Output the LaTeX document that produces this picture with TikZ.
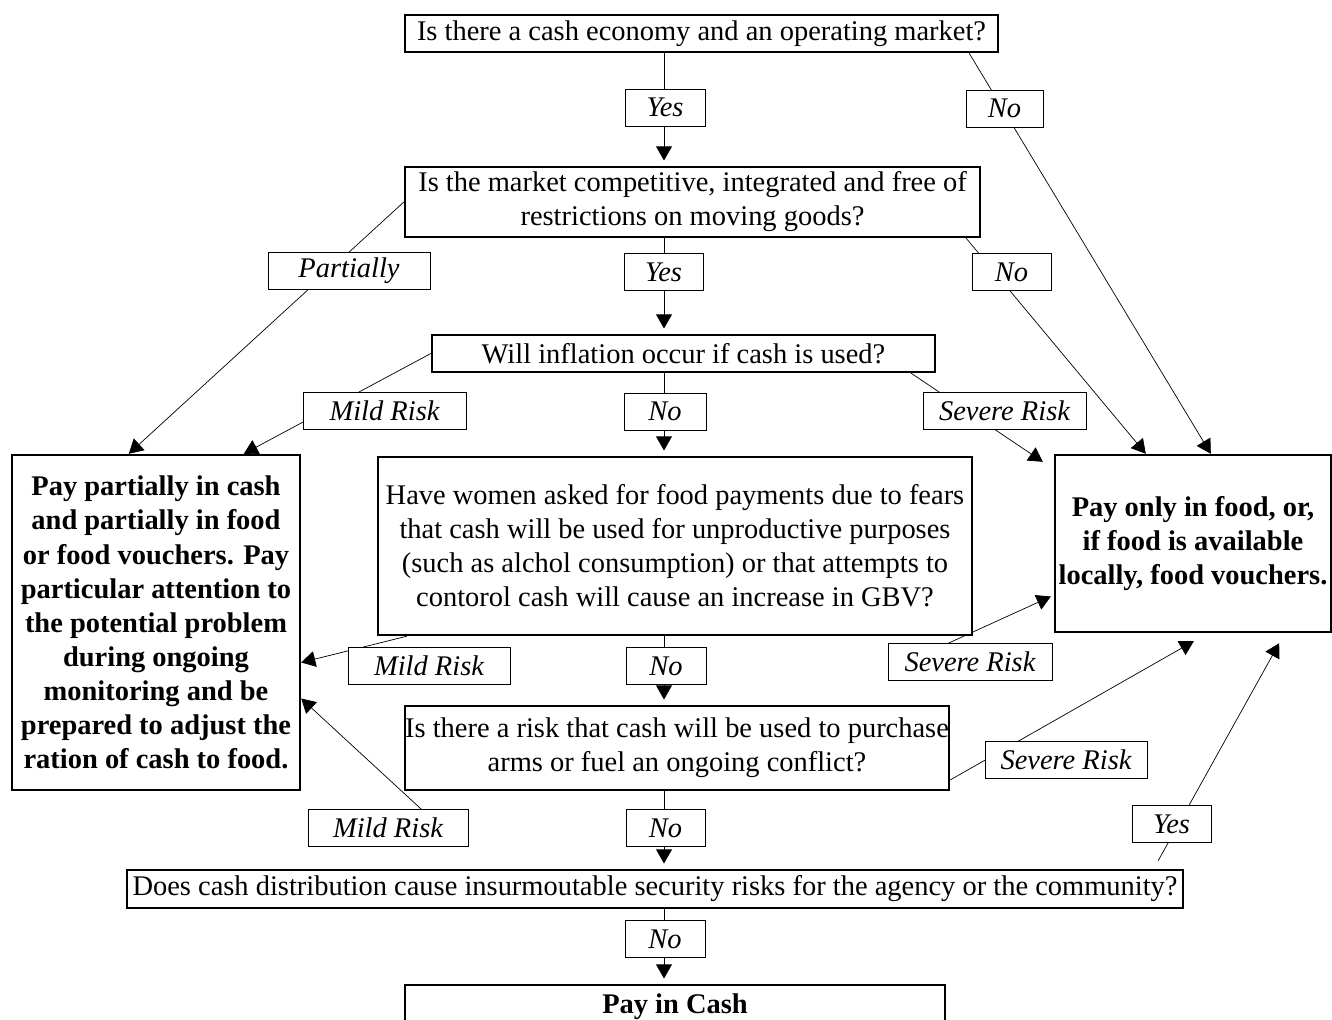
\documentclass[tikz,border=0pt]{standalone}
\usepackage{fontspec}
\setmainfont{Liberation Serif}
\usetikzlibrary{arrows.meta,calc}
\pgfdeclarelayer{back}
\pgfsetlayers{back,main}
\newcommand{\flowfont}{\fontsize{16.2}{19.4}\selectfont}

\begin{document}
\begin{tikzpicture}[x=0.02cm, y=-0.02cm, line width=1.4pt,
    every node/.style={font=\flowfont},
    qbox/.style={draw, fill=white, inner sep=0pt, align=center},
    endbox/.style={qbox, font=\flowfont\bfseries},
    lbl/.style={draw, fill=white, inner sep=0pt, minimum height=0.74cm, font=\flowfont\itshape},
    arr/.style={-{Triangle[length=8pt,width=9pt]}},
    down/.style={arr, shorten >=3pt}]
    \useasboundingbox (0,0) rectangle (1332,1020);
    \coordinate (col) at (664,0);

    % questions
    \node[qbox, minimum width=11.86cm, minimum height=0.74cm] (q1) at (701.5,33.5)
        {Is there a cash economy and an operating market?};
    \node[qbox, minimum width=11.5cm, minimum height=1.4cm] (q2) at (692.5,202)
        {Is the market competitive, integrated and free of\\ restrictions on moving goods?};
    \node[qbox, minimum width=10.06cm, minimum height=0.74cm] (q3) at (683.5,353.5)
        {Will inflation occur if cash is used?};
    \node[qbox, minimum width=11.88cm, minimum height=3.56cm] (q4) at (675,546)
        {Have women asked for food payments due to fears\\ that cash will be used for unproductive purposes\\
         (such as alchol consumption) or that attempts to\\ contorol cash will cause an increase in GBV?};
    \node[qbox, minimum width=10.76cm, minimum height=1.68cm] (q5) at (677,748)
        {Is there a risk that cash will be used to purchase\\ arms or fuel an ongoing conflict?};
    \node[qbox, minimum width=21.12cm, minimum height=0.76cm] (q6) at (655,889)
        {Does cash distribution cause insurmoutable security risks for the agency or the community?};

    % outcomes
    \node[endbox, minimum width=5.76cm, minimum height=6.7cm] (partial) at (156,622.5)
        {Pay partially in cash\\ and partially in food\\ or food vouchers. Pay\\ particular attention to\\
         the potential problem\\ during ongoing\\ monitoring and be\\ prepared to adjust the\\ ration of cash to food.};
    \node[endbox, minimum width=5.52cm, minimum height=3.54cm] (food) at (1193,543.5)
        {Pay only in food, or,\\ if food is available\\ locally, food vouchers.};
    \node[endbox, minimum width=10.8cm, minimum height=0.88cm] (cash) at (675,1007) {Pay in Cash};

    \begin{pgfonlayer}{back}
    \draw[down] (col |- q1.south) -- (col |- q2.north);
    \draw[down] (col |- q2.south) -- (col |- q3.north);
    \draw[down] (col |- q3.south) -- (col |- q4.north);
    \draw[down] (col |- q4.south) -- (col |- q5.north);
    \draw[down] (col |- q5.south) -- (col |- q6.north);
    \draw[down] (col |- q6.south) -- (col |- cash.north);

    \draw[arr] ($(q1.south east)+(-30,0)$) -- ($(food.north west)+(157,0)$);
    \draw[arr] (q2.west) -- ($(partial.north west)+(118,0)$);
    \draw[arr] ($(q2.south east)+(-15,0)$) -- ($(food.north west)+(92,0)$);
    \draw[arr] (q3.west) -- ($(partial.north west)+(233,0)$);
    \draw[arr] ($(q3.south east)+(-25,0)$) -- ($(food.north west)+(-11,8)$);
    \draw[arr] ($(q4.south west)+(30,0)$) -- ($(partial.east)+(0,40)$);
    \draw[arr] ($(q4.south east)+(-27,8)$) -- ($(food.west)+(-3,53)$);
    \draw[arr] ($(q5.south west)+(25,25)$) -- ($(partial.east)+(0,76)$);
    \draw[arr] ($(q5.east)+(0,32)$) -- ($(food.south west)+(140,8)$);
    \draw[arr] ($(q6.north east)+(-26,-8)$) -- ($(food.south east)+(-53,10)$);
    \end{pgfonlayer}

    % answers
    \node[lbl, minimum width=1.6cm] (yes1) at (665,107.5) {Yes};
    \node[lbl, minimum width=1.54cm] (no1) at (1004.5,108.5) {No};
    \node[lbl, minimum width=3.24cm] (part) at (349,271) {Partially};
    \node[lbl, minimum width=1.58cm] (yes2) at (663.5,272) {Yes};
    \node[lbl, minimum width=1.58cm] (no2) at (1011.5,272) {No};
    \node[lbl, minimum width=3.26cm] (mild1) at (384.5,411) {Mild Risk};
    \node[lbl, minimum width=1.64cm] (no3) at (665,411.5) {No};
    \node[lbl, minimum width=3.26cm] (sev1) at (1004.5,411) {Severe Risk};
    \node[lbl, minimum width=3.24cm] (mild2) at (429,666) {Mild Risk};
    \node[lbl, minimum width=1.6cm] (no4) at (666,666) {No};
    \node[lbl, minimum width=3.28cm] (sev2) at (970,662) {Severe Risk};
    \node[lbl, minimum width=3.2cm] (mild3) at (388,827.5) {Mild Risk};
    \node[lbl, minimum width=1.58cm] (no5) at (665.5,828) {No};
    \node[lbl, minimum width=3.24cm] (sev3) at (1066,760) {Severe Risk};
    \node[lbl, minimum width=1.58cm] (yes3) at (1171.5,824) {Yes};
    \node[lbl, minimum width=1.6cm] (no6) at (665,939) {No};
\end{tikzpicture}
\end{document}
